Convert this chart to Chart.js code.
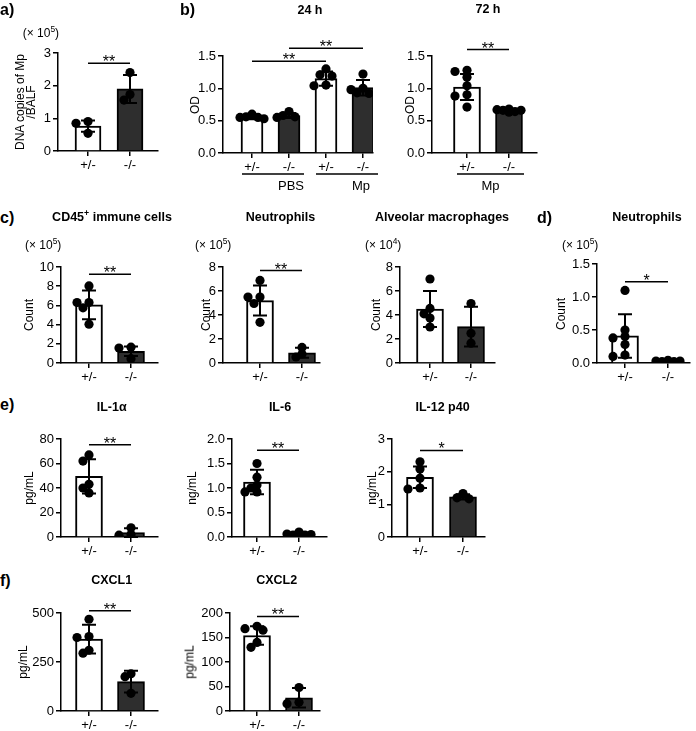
<!DOCTYPE html>
<html>
<head>
<meta charset="utf-8">
<script src="https://cdn.jsdelivr.net/npm/chart.js@4.4.1/dist/chart.umd.min.js"></script>
<style>
body { margin: 0; background: #fff; font-family: "Liberation Sans", Arial, sans-serif; }
#fig { position: relative; width: 696px; height: 731px; overflow: hidden; }
canvas { position: absolute; }
.t { position: absolute; white-space: nowrap; transform: translate(-50%, -50%); font-size: 12.5px; color: #000; }
.b { font-weight: bold; }
.p { font-weight: bold; font-size: 16px; transform: translate(0, -50%); }
.m { font-size: 12px; transform: translate(0, -50%); }
.r { font-size: 12px; text-align: center; line-height: 11px; transform: translate(-50%, -50%) rotate(-90deg); }
sup { font-size: 0.7em; vertical-align: super; line-height: 0; }
</style>
</head>
<body>
<div id="fig"></div>
<script>
// ---- data ----
const groups2 = ['+/-', '-/-'];
const groups4 = ['+/-', '-/-', '+/-', '-/-'];

// a) DNA copies of Mp / BALF (x 10^5)
const aMean = [0.76, 1.90];
const aSD = [0.17, 0.43];
const aWT = [0.90, 0.85, 0.54];
const aKO = [2.40, 1.73, 1.56];

// b) OD 24 h : PBS +/-, PBS -/-, Mp +/-, Mp -/-
const b24Mean = [0.55, 0.58, 1.15, 1.01];
const b24SD = [0.03, 0.04, 0.11, 0.12];
const b24Pts = [
    [0.53, 0.55, 0.55, 0.56, 0.60],
    [0.55, 0.56, 0.58, 0.64],
    [1.30, 1.21, 1.19, 1.05, 1.04],
    [1.22, 1.00, 0.98, 0.93, 0.92]
];
// b) OD 72 h
const b72Mean = [1.02, 0.65];
const b72SD = [0.20, 0.02];
const b72WT = [1.28, 1.26, 1.17, 1.04, 0.90, 0.88, 0.71];
const b72KO = [0.68, 0.67, 0.66, 0.66, 0.64, 0.63];

// c) counts
const cdMean = [6.05, 1.22];
const cdSD = [1.5, 0.5];
const cdWT = [8.03, 6.3, 6.3, 5.75, 4.04];
const cdKO = [1.65, 1.55, 0.45];

const neuMean = [5.2, 0.85];
const neuSD = [1.25, 0.42];
const neuWT = [6.88, 5.5, 5.5, 4.96, 3.39];
const neuKO = [1.3, 0.75, 0.5];

const amMean = [4.5, 3.03];
const amSD = [1.5, 1.65];
const amWT = [7.0, 4.55, 4.1, 3.75, 3.0];
const amKO = [4.96, 2.48, 1.65];

// d) neutrophils
const dMean = [0.41, 0.025];
const dSD = [0.33, 0.01];
const dWT = [1.10, 0.50, 0.40, 0.38, 0.28, 0.12, 0.10];
const dKO = [0.04, 0.03, 0.03, 0.02, 0.02, 0.01];

// e) cytokines
const il1Mean = [49.5, 3.6];
const il1SD = [14, 3.5];
const il1WT = [67, 62, 43, 40, 36];
const il1KO = [7.5, 2.0, 1.5];

const il6Mean = [1.12, 0.06];
const il6SD = [0.25, 0.03];
const il6WT = [1.50, 1.22, 1.06, 1.00, 0.92, 0.92];
const il6KO = [0.10, 0.06, 0.05, 0.04, 0.04];

const il12Mean = [1.83, 1.23];
const il12SD = [0.33, 0.08];
const il12WT = [2.30, 2.08, 1.80, 1.50, 1.47];
const il12KO = [1.33, 1.20, 1.17];

// f) chemokines
const cx1Mean = [367, 150];
const cx1SD = [73, 55];
const cx1WT = [468, 380, 375, 310, 295];
const cx1KO = [190, 175, 90];

const cx2Mean = [154, 27];
const cx2SD = [19, 20];
const cx2WT = [173, 168, 165, 140, 130];
const cx2KO = [48, 18, 15];

const white = '#ffffff';
const dark = '#2e2e2e';

// ---- plugins ----
// spread points of one group sideways so they do not pile up
const swarm = {
    id: 'swarm',
    beforeDatasetsDraw(chart) {
        chart.data.datasets.forEach((ds, di) => {
            if (!ds.swarm) return;
            const meta = chart.getDatasetMeta(di);
            const xs = chart.scales.x;
            const byGroup = {};
            meta.data.forEach((el, k) => {
                const g = ds.data[k].x;
                (byGroup[g] = byGroup[g] || []).push(el);
            });
            Object.keys(byGroup).forEach(g => {
                const cx = xs.getPixelForValue(+g);
                const placed = [];
                byGroup[g].sort((p, q) => p.y - q.y).forEach(el => {
                    let best = cx, bestD = -1;
                    for (const k of [0, -1, 1, -2, 2]) {
                        const x = cx + k * 6;
                        const d = placed.length ? Math.min(...placed.map(p => Math.hypot(p.x - x, p.y - el.y))) : 99;
                        if (d >= 6.5) { best = x; bestD = d; break; }
                        if (d > bestD) { best = x; bestD = d; }
                    }
                    el.x = best;
                    placed.push({x: el.x, y: el.y});
                });
            });
        });
    }
};

const errorBars = {
    id: 'errorBars',
    afterDatasetDraw(chart, args) {
        const ds = chart.data.datasets[args.index];
        if (!ds.sd) return;
        const ctx = chart.ctx, y = chart.scales.y;
        ctx.save();
        ctx.strokeStyle = '#000';
        ctx.lineWidth = 2;
        args.meta.data.forEach((el, i) => {
            const m = ds.data[i].y, s = ds.sd[i];
            const top = y.getPixelForValue(m + s), bot = y.getPixelForValue(Math.max(m - s, 0));
            ctx.beginPath();
            ctx.moveTo(el.x, top); ctx.lineTo(el.x, bot);
            ctx.moveTo(el.x - 7, top); ctx.lineTo(el.x + 7, top);
            ctx.moveTo(el.x - 7, bot); ctx.lineTo(el.x + 7, bot);
            ctx.stroke();
        });
        ctx.restore();
    }
};

// significance bars and group underlines
const marks = {
    id: 'marks',
    afterDraw(chart, args, o) {
        const {ctx, chartArea} = chart;
        const x = chart.scales.x, y = chart.scales.y;
        ctx.save();
        ctx.strokeStyle = '#000';
        ctx.fillStyle = '#000';
        ctx.lineWidth = 1.5;
        (o.sig || []).forEach(([i, j, v, t]) => {
            const x1 = x.getPixelForValue(i + 1), x2 = x.getPixelForValue(j + 1), py = y.getPixelForValue(v);
            ctx.beginPath(); ctx.moveTo(x1, py); ctx.lineTo(x2, py); ctx.stroke();
            ctx.font = '16px "Liberation Sans", Arial';
            ctx.textAlign = 'center';
            ctx.textBaseline = 'alphabetic';
            ctx.fillText(t, (x1 + x2) / 2, py + 4);
        });
        (o.under || []).forEach(([i, j, t, dx]) => {
            const x1 = x.getPixelForValue(i + 1) - 10, x2 = x.getPixelForValue(j + 1) + 15;
            const py = chartArea.bottom + 21;
            ctx.beginPath(); ctx.moveTo(x1, py); ctx.lineTo(x2, py); ctx.stroke();
            ctx.font = '13px "Liberation Sans", Arial';
            ctx.textAlign = 'center';
            ctx.textBaseline = 'middle';
            ctx.fillText(t, (x1 + x2) / 2 + (dx || 0), py + 12);
        });
        ctx.restore();
    }
};

// ---- panel builder ----
const fig = document.getElementById('fig');
const tickFont = {family: '"Liberation Sans", Arial', size: 13};

function panel(p) {
    const Wy = 44, padTop = 40, Hx = 28, padR = 8;
    const padBottom = p.under ? 34 : 4;
    const n = p.labels.length;
    const unit = p.centers[1] - p.centers[0];
    const lastCenter = p.centers[0] + (n - 1) * unit;
    const xmin = 1 - (p.centers[0] - p.axisX) / unit;
    const xmax = n + (p.xEnd - lastCenter) / unit;

    const cv = document.createElement('canvas');
    const w = Wy + (p.xEnd - p.axisX) + padR;
    const h = padTop + (p.y0 - p.yTop) + Hx + padBottom;
    cv.width = w; cv.height = h;
    cv.style.left = (p.axisX - Wy) + 'px';
    cv.style.top = (p.yTop - padTop) + 'px';
    cv.style.width = w + 'px'; cv.style.height = h + 'px';
    fig.appendChild(cv);

    const pts = [];
    p.points.forEach((g, i) => g.forEach(v => pts.push({x: i + 1, y: v})));

    new Chart(cv, {
        type: 'bar',
        data: {
            datasets: [
                {
                    type: 'bar',
                    data: p.mean.map((m, i) => ({x: i + 1, y: m})),
                    sd: p.sd,
                    backgroundColor: p.fills,
                    borderColor: '#000',
                    borderWidth: 2,
                    barThickness: p.barW,
                    order: 2
                },
                {
                    type: 'scatter',
                    data: pts,
                    swarm: true,
                    pointRadius: 4.6,
                    pointBackgroundColor: '#000',
                    pointBorderWidth: 0,
                    order: 1
                }
            ]
        },
        options: {
            responsive: false,
            animation: false,
            events: [],
            layout: {padding: {top: padTop, right: padR, bottom: padBottom, left: 0}},
            plugins: {
                legend: {display: false},
                tooltip: {enabled: false},
                marks: {sig: p.sig, under: p.under}
            },
            scales: {
                x: {
                    type: 'linear',
                    min: xmin,
                    max: xmax,
                    offset: false,
                    afterFit: s => { s.height = Hx; },
                    afterBuildTicks: s => { s.ticks = p.labels.map((l, i) => ({value: i + 1})); },
                    ticks: {
                        callback: v => p.labels[Math.round(v) - 1],
                        font: tickFont, color: '#000', padding: 2,
                        maxRotation: 0, autoSkip: false
                    },
                    grid: {drawOnChartArea: false, offset: false, tickLength: 5, color: '#000', lineWidth: 1.5},
                    border: {color: '#000', width: 1.5}
                },
                y: {
                    min: 0,
                    max: p.yMax,
                    afterFit: s => { s.width = Wy; },
                    ticks: {
                        stepSize: p.step,
                        callback: v => v.toFixed(p.dec),
                        font: tickFont, color: '#000', padding: 2
                    },
                    grid: {drawOnChartArea: false, tickLength: 5, color: '#000', lineWidth: 1.5},
                    border: {color: '#000', width: 1.5}
                }
            }
        },
        plugins: [swarm, errorBars, marks]
    });
}

function txt(x, y, html, cls) {
    const d = document.createElement('div');
    d.className = 't ' + (cls || '');
    d.style.left = x + 'px';
    d.style.top = y + 'px';
    d.innerHTML = html;
    fig.appendChild(d);
}

// ---- panels ----
panel({axisX: 58, yTop: 53, y0: 151, xEnd: 158, centers: [88, 130], barW: 26,
    yMax: 3, step: 1, dec: 0, labels: groups2, mean: aMean, sd: aSD, points: [aWT, aKO],
    fills: [white, dark], sig: [[0, 1, 2.69, '**']]});

panel({axisX: 223, yTop: 56, y0: 153, xEnd: 373, centers: [252, 289], barW: 22,
    yMax: 1.5, step: 0.5, dec: 1, labels: groups4, mean: b24Mean, sd: b24SD, points: b24Pts,
    fills: [white, dark, white, dark], sig: [[0, 2, 1.42, '**'], [1, 3, 1.62, '**']],
    under: [[0, 1, 'PBS', 18], [2, 3, 'Mp', 14]]});

panel({axisX: 432, yTop: 56, y0: 153, xEnd: 537, centers: [467, 509], barW: 27,
    yMax: 1.5, step: 0.5, dec: 1, labels: groups2, mean: b72Mean, sd: b72SD, points: [b72WT, b72KO],
    fills: [white, dark], sig: [[0, 1, 1.60, '**']], under: [[0, 1, 'Mp']]});

panel({axisX: 61, yTop: 267, y0: 363, xEnd: 158, centers: [89, 131], barW: 27,
    yMax: 10, step: 2, dec: 0, labels: groups2, mean: cdMean, sd: cdSD, points: [cdWT, cdKO],
    fills: [white, dark], sig: [[0, 1, 9.25, '**']]});

panel({axisX: 223, yTop: 267, y0: 363, xEnd: 320, centers: [260, 302], barW: 27,
    yMax: 8, step: 2, dec: 0, labels: groups2, mean: neuMean, sd: neuSD, points: [neuWT, neuKO],
    fills: [white, dark], sig: [[0, 1, 7.7, '**']]});

panel({axisX: 400, yTop: 267, y0: 363, xEnd: 495, centers: [430, 471], barW: 27,
    yMax: 8, step: 2, dec: 0, labels: groups2, mean: amMean, sd: amSD, points: [amWT, amKO],
    fills: [white, dark]});

panel({axisX: 597, yTop: 264, y0: 363, xEnd: 690, centers: [625, 668], barW: 27,
    yMax: 1.5, step: 0.5, dec: 1, labels: groups2, mean: dMean, sd: dSD, points: [dWT, dKO],
    fills: [white, dark], sig: [[0, 1, 1.23, '*']]});

panel({axisX: 61, yTop: 439, y0: 537, xEnd: 158, centers: [89, 131], barW: 27,
    yMax: 80, step: 20, dec: 0, labels: groups2, mean: il1Mean, sd: il1SD, points: [il1WT, il1KO],
    fills: [white, dark], sig: [[0, 1, 75.3, '**']]});

panel({axisX: 232, yTop: 439, y0: 537, xEnd: 327, centers: [257, 299], barW: 27,
    yMax: 2, step: 0.5, dec: 1, labels: groups2, mean: il6Mean, sd: il6SD, points: [il6WT, il6KO],
    fills: [white, dark], sig: [[0, 1, 1.77, '**']]});

panel({axisX: 392, yTop: 439, y0: 537, xEnd: 485, centers: [420, 463], barW: 27,
    yMax: 3, step: 1, dec: 0, labels: groups2, mean: il12Mean, sd: il12SD, points: [il12WT, il12KO],
    fills: [white, dark], sig: [[0, 1, 2.65, '*']]});

panel({axisX: 61, yTop: 613, y0: 711, xEnd: 158, centers: [89, 131], barW: 27,
    yMax: 500, step: 250, dec: 0, labels: groups2, mean: cx1Mean, sd: cx1SD, points: [cx1WT, cx1KO],
    fills: [white, dark], sig: [[0, 1, 512, '**']]});

panel({axisX: 230, yTop: 613, y0: 711, xEnd: 320, centers: [257, 299], barW: 27,
    yMax: 200, step: 50, dec: 0, labels: groups2, mean: cx2Mean, sd: cx2SD, points: [cx2WT, cx2KO],
    fills: [white, dark], sig: [[0, 1, 193, '**']]});

// ---- text ----
txt(0, 10, 'a)', 'p'); txt(180, 10, 'b)', 'p'); txt(0, 218, 'c)', 'p');
txt(537, 218, 'd)', 'p'); txt(0, 405, 'e)', 'p'); txt(0, 581, 'f)', 'p');

txt(310, 10, '24 h', 'b'); txt(488, 9, '72 h', 'b');
txt(112, 216.5, 'CD45<sup>+</sup> immune cells', 'b');
txt(280.5, 216.5, 'Neutrophils', 'b');
txt(442, 216.5, 'Alveolar macrophages', 'b');
txt(647, 216.5, 'Neutrophils', 'b');
txt(111.7, 407, 'IL-1\u03b1', 'b'); txt(280, 407, 'IL-6', 'b'); txt(442.5, 407, 'IL-12 p40', 'b');
txt(111.7, 580, 'CXCL1', 'b'); txt(276.7, 580, 'CXCL2', 'b');

txt(22.7, 33, '(\u00d7 10<sup>5</sup>)', 'm');
txt(25, 245, '(\u00d7 10<sup>5</sup>)', 'm');
txt(195, 245, '(\u00d7 10<sup>5</sup>)', 'm');
txt(365, 245, '(\u00d7 10<sup>4</sup>)', 'm');
txt(562, 245, '(\u00d7 10<sup>5</sup>)', 'm');

txt(26, 102, 'DNA copies of Mp<br>/BALF', 'r');
txt(195, 104.5, 'OD', 'r'); txt(410, 104.5, 'OD', 'r');
txt(29, 315, 'Count', 'r'); txt(206, 315, 'Count', 'r'); txt(376, 315, 'Count', 'r'); txt(561, 314, 'Count', 'r');
txt(29, 488, 'pg/mL', 'r'); txt(192, 488, 'ng/mL', 'r'); txt(372, 488, 'ng/mL', 'r');
txt(23, 662, 'pg/mL', 'r'); txt(190, 662, 'pg/mL', 'r');
</script>
</body>
</html>
